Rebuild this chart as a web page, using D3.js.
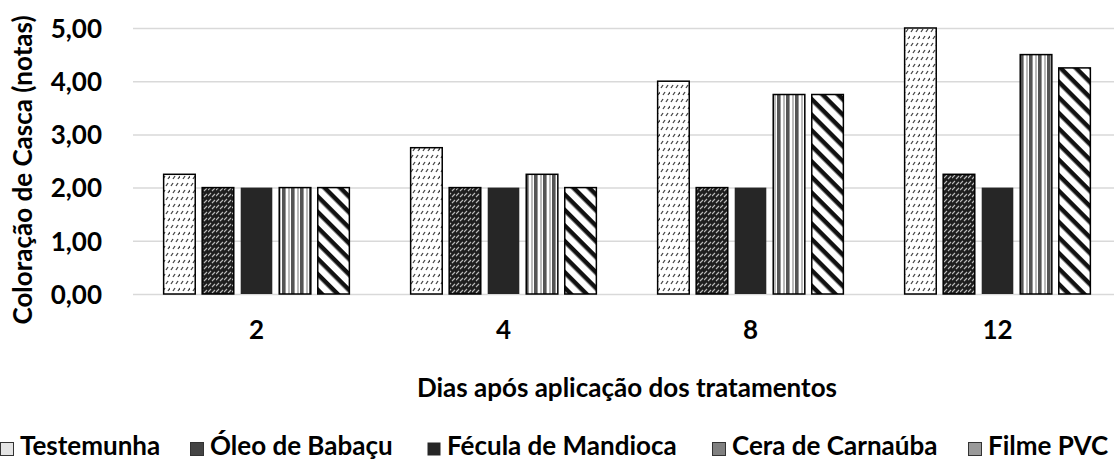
<!DOCTYPE html>
<html>
<head>
<meta charset="utf-8">
<script src="https://cdn.jsdelivr.net/npm/d3@7"></script>
<style>
  body { margin: 0; background: #fff; }
  text { font-family: Lato, "Liberation Sans", sans-serif; font-weight: bold; fill: #000; }
</style>
</head>
<body>
<div id="chart"></div>
<script>
(function () {
  'use strict';

  var days = ['2', '4', '8', '12'];
  var series = ['Testemunha', 'Óleo de Babaçu', 'Fécula de Mandioca', 'Cera de Carnaúba', 'Filme PVC'];
  var testemunha = [2.25, 2.75, 4.0, 5.0];
  var oleo = [2.0, 2.0, 2.0, 2.25];
  var fecula = [2.0, 2.0, 2.0, 2.0];
  var cera = [2.0, 2.25, 3.75, 4.5];
  var pvc = [2.0, 2.0, 3.75, 4.25];
  var yTicks = [0, 1, 2, 3, 4, 5];

  var values = [testemunha, oleo, fecula, cera, pvc];
  var data = [];
  days.forEach(function (d, i) {
    series.forEach(function (s, j) {
      data.push({ day: d, serie: s, idx: j, value: values[j][i] });
    });
  });

  var width = 1114, height = 466;
  var plot = { left: 133, right: 1121, top: 28, bottom: 294 };
  var fontSize = '26px';

  var svg = d3.select('#chart').append('svg')
      .attr('width', width)
      .attr('height', height);

  var defs = svg.append('defs');

  // Testemunha: white with sparse dark dashes
  var p0 = defs.append('pattern').attr('id', 'pat0').attr('patternUnits', 'userSpaceOnUse')
      .attr('width', 10).attr('height', 14);
  p0.append('rect').attr('width', 10).attr('height', 14).attr('fill', '#fff');
  [[1, 4, 3, 1], [6, 4, 8, 1], [3, 11, 5, 8], [8, 11, 10, 8]].forEach(function (l) {
    p0.append('line').attr('x1', l[0]).attr('y1', l[1]).attr('x2', l[2]).attr('y2', l[3])
      .attr('stroke', '#444').attr('stroke-width', 1.3);
  });

  // Óleo de Babaçu: dark with light wavy dashes
  var p1 = defs.append('pattern').attr('id', 'pat1').attr('patternUnits', 'userSpaceOnUse')
      .attr('width', 8).attr('height', 6);
  p1.append('rect').attr('width', 8).attr('height', 6).attr('fill', '#1e1e1e');
  p1.append('path').attr('d', 'M0,4 L3,1 M4,5 L7,2').attr('stroke', '#bbb').attr('stroke-width', 1.1).attr('fill', 'none');

  // Cera de Carnaúba: vertical stripes
  var p3 = defs.append('pattern').attr('id', 'pat3').attr('patternUnits', 'userSpaceOnUse')
      .attr('width', 9).attr('height', 4);
  p3.append('rect').attr('width', 9).attr('height', 4).attr('fill', '#fff');
  p3.append('rect').attr('x', 0).attr('width', 2).attr('height', 4).attr('fill', '#bbb');
  p3.append('rect').attr('x', 3).attr('width', 3).attr('height', 4).attr('fill', '#555');
  p3.append('rect').attr('x', 6).attr('width', 1).attr('height', 4).attr('fill', '#999');

  // Filme PVC: wide diagonal stripes going down to the right
  var p4 = defs.append('pattern').attr('id', 'pat4').attr('patternUnits', 'userSpaceOnUse')
      .attr('width', 11).attr('height', 11).attr('patternTransform', 'rotate(45)');
  p4.append('rect').attr('width', 11).attr('height', 11).attr('fill', '#fff');
  p4.append('rect').attr('width', 11).attr('height', 4.5).attr('fill', '#111');

  var fills = ['url(#pat0)', 'url(#pat1)', '#262626', 'url(#pat3)', 'url(#pat4)'];
  var legendFills = ['#e4e4e4', '#444', '#262626', '#808080', '#9a9a9a'];

  var x0 = d3.scaleBand().domain(days).range([plot.left, plot.right])
      .paddingInner(0.22).paddingOuter(0.11);
  var x1 = d3.scaleBand().domain(series).range([0, x0.bandwidth()])
      .paddingInner(0.18).paddingOuter(0.09);
  var y = d3.scaleLinear().domain([0, 5]).range([plot.bottom, plot.top]);

  // gridlines + y tick labels
  var yAxis = svg.append('g')
      .attr('transform', 'translate(' + plot.left + ',0)')
      .call(d3.axisLeft(y).tickValues(yTicks).tickSize(-(width - plot.left))
        .tickPadding(31)
        .tickFormat(function (d) { return d3.format('.2f')(d).replace('.', ','); }));
  yAxis.select('.domain').remove();
  yAxis.selectAll('.tick line').attr('stroke', '#d9d9d9').attr('stroke-width', 1.5);
  yAxis.selectAll('.tick text').style('font-size', fontSize).attr('dy', '0.36em');

  // bars
  svg.append('g').selectAll('rect')
      .data(data)
      .enter()
      .append('rect')
      .attr('x', function (d) { return x0(d.day) + x1(d.serie); })
      .attr('y', function (d) { return y(d.value); })
      .attr('width', x1.bandwidth())
      .attr('height', function (d) { return y(0) - y(d.value); })
      .attr('fill', function (d) { return fills[d.idx]; })
      .attr('stroke', function (d) { return d.idx === 2 ? 'none' : '#000'; })
      .attr('stroke-width', 1.5);

  // x axis labels
  var xAxis = svg.append('g')
      .attr('transform', 'translate(0,' + plot.bottom + ')')
      .call(d3.axisBottom(x0).tickSize(0).tickPadding(27));
  xAxis.select('.domain').remove();
  xAxis.selectAll('.tick text').style('font-size', fontSize);

  svg.append('text')
      .attr('x', 627).attr('y', 397)
      .attr('text-anchor', 'middle')
      .style('font-size', fontSize)
      .text('Dias após aplicação dos tratamentos');

  svg.append('text')
      .attr('transform', 'translate(32,' + 170 + ') rotate(-90)')
      .attr('text-anchor', 'middle')
      .style('font-size', fontSize)
      .text('Coloração de Casca (notas)');

  // legend
  var legendX = [0, 190, 427, 712, 968];
  var legend = svg.append('g').selectAll('g')
      .data(series)
      .enter()
      .append('g')
      .attr('transform', function (d, i) { return 'translate(' + legendX[i] + ',442)'; });
  legend.append('rect')
      .attr('x', 0.5).attr('y', 0.5)
      .attr('width', 13).attr('height', 13)
      .attr('fill', function (d, i) { return legendFills[i]; })
      .attr('stroke', function (d, i) { return i === 2 ? 'none' : '#333'; })
      .attr('stroke-width', 1);
  legend.append('text')
      .attr('x', 20).attr('y', 13)
      .style('font-size', fontSize)
      .text(function (d) { return d; });
}());
</script>
</body>
</html>
